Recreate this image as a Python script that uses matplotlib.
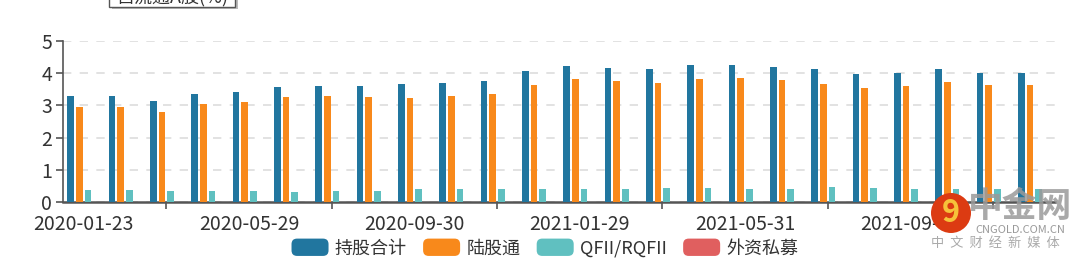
import matplotlib
matplotlib.use('Agg')
import matplotlib.pyplot as plt
import numpy as np
from matplotlib.patches import FancyBboxPatch, Rectangle, Circle, Patch
from matplotlib.legend_handler import HandlerPatch

plt.rcParams['font.family'] = ['Noto Sans CJK SC', 'DejaVu Sans']

# 数据 (占流通A股 %)
dates = ['2020-01-23', '', '', '', '2020-05-29', '', '', '', '2020-09-30', '', '', '',
         '2021-01-29', '', '', '', '2021-05-31', '', '', '', '2021-09-30', '', '', '']
series_names = ['持股合计', '陆股通', 'QFII/RQFII', '外资私募']
total = [3.29, 3.29, 3.15, 3.36, 3.43, 3.57, 3.61, 3.59, 3.65, 3.71, 3.75, 4.06,
         4.21, 4.16, 4.13, 4.25, 4.26, 4.19, 4.13, 3.98, 4.02, 4.12, 4.02, 4.02]
hk_connect = [2.95, 2.95, 2.80, 3.03, 3.10, 3.27, 3.28, 3.27, 3.24, 3.30, 3.36, 3.64,
              3.81, 3.76, 3.70, 3.83, 3.85, 3.80, 3.67, 3.54, 3.61, 3.73, 3.62, 3.62]
qfii = [0.36, 0.36, 0.34, 0.34, 0.33, 0.31, 0.34, 0.33, 0.41, 0.41, 0.39, 0.41,
        0.41, 0.40, 0.44, 0.43, 0.40, 0.40, 0.47, 0.45, 0.40, 0.40, 0.39, 0.39]
private = [0.0] * 24
colors = ['#21769f', '#f8891b', '#60c0c0', '#e05f5f']

fig = plt.figure(figsize=(10.8, 2.62), dpi=100)
ax = fig.add_axes([63 / 1080, 60 / 262, 992 / 1080, 161 / 262])

x = np.arange(len(dates))
pitch = 0.21
width = 0.162
for i, vals in enumerate([total, hk_connect, qfii, private]):
    ax.bar(x + (i - 1.5) * pitch, vals, width, color=colors[i], zorder=3)

ax.set_xlim(-0.5, len(dates) - 0.5)
ax.set_ylim(0, 5)
ax.set_yticks([0, 1, 2, 3, 4, 5])
ax.yaxis.grid(True, linestyle=(0, (5, 5)), color='#dddddd', linewidth=1.2, zorder=0)
ax.set_axisbelow(True)

label_pos = [i for i in range(len(dates)) if dates[i]]
ax.set_xticks(label_pos)
ax.set_xticklabels([dates[i] for i in label_pos])
ax.set_xticks(np.arange(2, len(dates), 4), minor=True)
ax.tick_params(axis='x', which='major', length=0, pad=9, labelsize=14, labelcolor='#333333')
ax.tick_params(axis='x', which='minor', length=5, width=1.2, color='#555555')
ax.tick_params(axis='y', length=5, width=1.2, color='#555555', labelsize=14,
               labelcolor='#333333', pad=3)

for s in ['top', 'right']:
    ax.spines[s].set_visible(False)
ax.spines['left'].set_color('#555555')
ax.spines['left'].set_linewidth(1.2)
ax.spines['bottom'].set_color('#555555')
ax.spines['bottom'].set_linewidth(1.8)


class RoundHandler(HandlerPatch):
    def create_artists(self, legend, orig_handle, xdescent, ydescent, width, height, fontsize, trans):
        p = FancyBboxPatch((-xdescent, -ydescent), width, height,
                           boxstyle='round,pad=0,rounding_size=4',
                           facecolor=orig_handle.get_facecolor(), edgecolor='none',
                           transform=trans)
        return [p]


handles = [Patch(facecolor=c) for c in colors]
fig.legend(handles, series_names, loc='center', bbox_to_anchor=(545 / 1080, 1 - 248 / 262),
           ncol=4, frameon=False, fontsize=13, handlelength=2.05, handleheight=1.1,
           handletextpad=0.35, columnspacing=0.9, labelcolor='#333333',
           handler_map={Patch: RoundHandler()})

# 顶部被截断的标题框
fig.add_artist(Rectangle((112 / 1080, 1 - 9 / 262), 126 / 1080, 12 / 262,
                         transform=fig.transFigure, facecolor='#bbbbbb', edgecolor='none'))
fig.add_artist(Rectangle((109 / 1080, 1 - 7 / 262), 126 / 1080, 12 / 262,
                         transform=fig.transFigure, facecolor='white', edgecolor='#555555',
                         linewidth=1))
fig.text(172 / 1080, 1 + 3 / 262, '占流通A股(%)', ha='center', va='center', fontsize=13,
         color='#333333')

# 水印
fig.add_artist(Circle((9.51, (262 - 213) / 100), 0.20, transform=fig.dpi_scale_trans,
                      facecolor='#dc3b12', edgecolor='none', zorder=5))
fig.text(951 / 1080, 1 - 213 / 262, '9', ha='center', va='center', fontsize=22,
         color='#f6c23a', fontweight='bold', zorder=6)
fig.text(1020 / 1080, 1 - 207 / 262, '中金网', ha='center', va='center', fontsize=25,
         color='#9a9a9a', alpha=0.85, fontweight='bold', zorder=6)
fig.text(1020 / 1080, 1 - 230 / 262, 'CNGOLD.COM.CN', ha='center', va='center', fontsize=8,
         color='#999999', zorder=6)
fig.text(995 / 1080, 1 - 243 / 262, '中  文  财  经  新  媒  体', ha='center', va='center',
         fontsize=9.5, color='#aaaaaa', zorder=6)

fig.savefig('out.png', dpi=100)
